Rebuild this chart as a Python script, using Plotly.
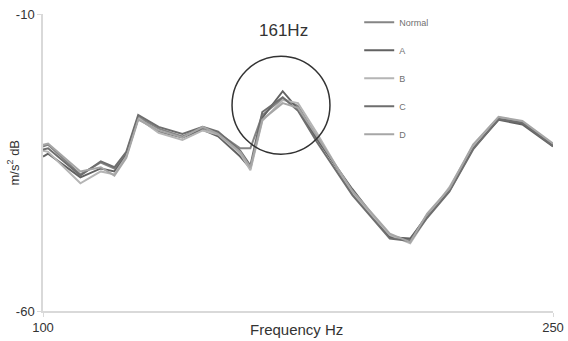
import plotly.graph_objects as go

freq = [100, 101.5, 111, 117, 121, 124.5, 128, 134, 141, 147, 151.5, 158, 161,
        164.5, 170.5, 175, 180.5, 191, 202, 208, 213, 219.5, 226.5, 234, 241, 250]

normal = [-32.3, -32.0, -37.0, -35.0, -36.0, -33.5, -27.3, -29.3, -30.6, -29.2, -30.0, -32.6, -32.6,
          -27.0, -24.2, -25.5, -30.7, -40.0, -47.4, -48.0, -43.8, -39.5, -32.4, -27.6, -28.4, -32.1]
a_vals = [-34.0, -33.5, -37.5, -36.0, -36.5, -33.8, -27.6, -29.8, -30.8, -29.5, -30.6, -34.0, -36.0,
          -27.5, -23.0, -26.0, -31.0, -39.5, -47.6, -47.8, -44.0, -39.8, -32.6, -27.8, -28.6, -32.3]
b_vals = [-33.0, -33.2, -38.5, -36.5, -37.0, -34.0, -27.5, -30.0, -31.2, -29.6, -30.3, -33.5, -36.3,
          -28.0, -24.5, -25.0, -30.0, -40.2, -47.2, -48.6, -44.2, -39.2, -32.2, -27.4, -28.2, -32.0]
c_vals = [-32.8, -32.6, -37.2, -34.8, -35.8, -33.2, -27.0, -29.0, -30.2, -29.0, -29.8, -33.0, -35.5,
          -26.5, -24.0, -26.3, -31.5, -40.5, -47.8, -48.2, -44.3, -39.9, -32.8, -27.7, -28.3, -32.2]
d_vals = [-32.0, -31.8, -36.5, -35.8, -37.2, -34.2, -27.8, -29.6, -30.8, -29.0, -30.2, -33.2, -35.8,
          -27.8, -25.0, -25.8, -30.5, -39.8, -47.0, -48.4, -43.6, -39.4, -32.0, -27.3, -28.0, -31.8]

series_names = ["Normal", "A", "B", "C", "D"]
series_vals = [normal, a_vals, b_vals, c_vals, d_vals]
series_colors = ["#858585", "#626262", "#b5b5b5", "#6e6e6e", "#a6a6a6"]

x_ticks = [100, 250]
y_ticks = [-10, -60]

FONT = "Liberation Sans, Arial"

fig = go.Figure()
for name, vals, col in zip(series_names, series_vals, series_colors):
    fig.add_trace(go.Scatter(x=freq, y=vals, mode="lines", name=name,
                             legendgroup=name,
                             line=dict(color=col, width=2)))

# highlight circle
fig.add_shape(type="circle", xref="x", yref="y",
              x0=155.6, x1=184.4, y0=-33.6, y1=-17.1,
              line=dict(color="#333333", width=1.5))

fig.add_annotation(x=170.6, y=-12.7, xref="x", yref="y", text="161Hz",
                   showarrow=False, font=dict(family=FONT, size=17, color="#333333"))

fig.add_annotation(x=0.497, y=0.0, xref="paper", yref="paper", yshift=-8,
                   xanchor="center", yanchor="top",
                   text="Frequency Hz", showarrow=False,
                   font=dict(family=FONT, size=15, color="#333333"))

fig.add_annotation(x=0.0, y=0.5, xref="paper", yref="paper", xshift=-30,
                   xanchor="center", yanchor="middle",
                   text="m/s<sup>2</sup> dB", textangle=-90, showarrow=False,
                   font=dict(family=FONT, size=13, color="#333333"))

fig.update_layout(
    width=568, height=341,
    margin=dict(l=43, r=15, t=14, b=30, autoexpand=False),
    plot_bgcolor="white", paper_bgcolor="white",
    font=dict(family=FONT, color="#404040"),
    legend=dict(x=0.62, y=1.021, xanchor="left", yanchor="top",
                font=dict(size=9, color="#707070"),
                tracegroupgap=9, itemwidth=30,
                bgcolor="rgba(0,0,0,0)"),
    xaxis=dict(range=[100, 250], tickvals=x_ticks, ticktext=[str(v) for v in x_ticks],
               showgrid=False, zeroline=False, showline=True, linecolor="#d9d9d9",
               linewidth=1.5, ticks="outside", ticklen=4, tickcolor="#d9d9d9",
               automargin=False,
               tickfont=dict(size=13, color="#333333")),
    yaxis=dict(range=[-60, -10], tickvals=y_ticks, ticktext=[str(v) for v in y_ticks],
               showgrid=False, zeroline=False, showline=True, linecolor="#d9d9d9",
               linewidth=1.5, ticks="outside", ticklen=4, tickcolor="#d9d9d9",
               automargin=False,
               tickfont=dict(size=13, color="#333333")),
)

fig.write_html("out.html")
